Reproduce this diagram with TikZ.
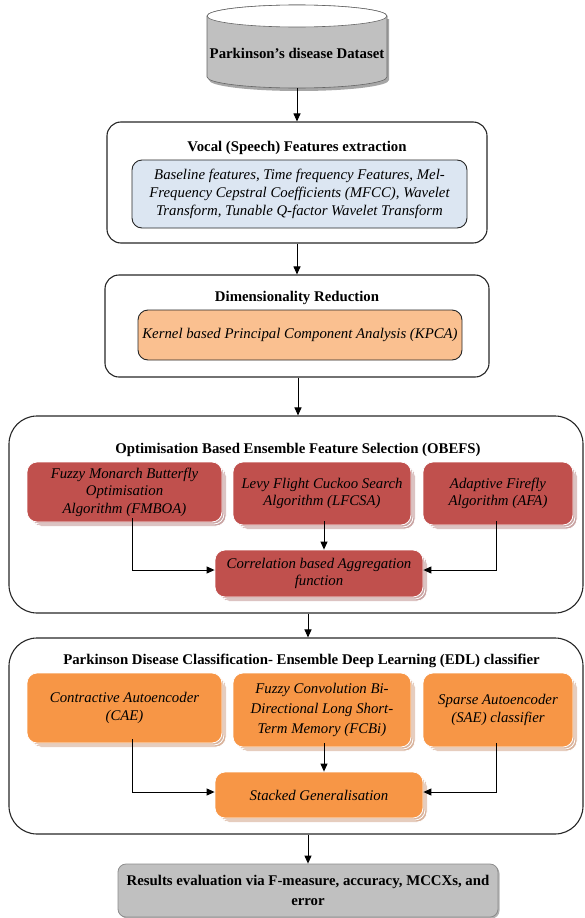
\documentclass[tikz,border=0pt]{standalone}
\usepackage{fontspec}
\setmainfont{Liberation Serif}
\usetikzlibrary{arrows.meta,shadows}

\definecolor{redbox}{HTML}{C0504D}
\definecolor{redshade}{HTML}{C9A3A2}
\definecolor{orangebox}{HTML}{F79646}
\definecolor{orangeshade}{HTML}{D9B39C}
\definecolor{peach}{HTML}{FAC090}
\definecolor{paleblue}{HTML}{DCE6F2}
\definecolor{greybox}{HTML}{C0C0C0}

\tikzset{
  heading/.style={font=\fontsize{14.8}{17}\selectfont\bfseries, inner sep=0pt, align=center},
  stage/.style={draw=black!85, line width=1.1pt, rounded corners=#1, inner sep=0pt},
  panel/.style={draw=black!85, line width=0.9pt, rounded corners=10pt, fill=#1,
    inner sep=0pt, align=center, font=\fontsize{14.8}{18}\selectfont\itshape},
  stacked/.style 2 args={fill=#1, draw=white, line width=0.8pt, rounded corners=10pt,
    inner sep=0pt, align=center, font=\fontsize{14.8}{17.5}\selectfont\itshape,
    general shadow={shadow xshift=4pt, shadow yshift=-4pt, fill=#2, draw=white},
    general shadow={shadow xshift=2pt, shadow yshift=-2pt, fill=#2, draw=white}},
  arr/.style={-{Triangle[length=8pt,width=7pt]}, line width=1pt, black},
}

\begin{document}
\begin{tikzpicture}[x=1pt, y=-1pt]
\useasboundingbox (0,0) rectangle (585,918);

% dataset cylinder
\fill[black!35] (209,19) -- (209,80) arc (180:360:90pt and 11pt) -- (389,19) -- cycle;
\draw[black!60, line width=0.6pt, fill=greybox] (207,16) -- (207,77) arc (180:360:90pt and 11pt)
  -- (387,16) arc (0:180:90pt and 11pt) -- cycle;
\draw[black!60, line width=0.6pt, fill=white] (297,16) ellipse [x radius=90pt, y radius=11pt];
\node[heading, minimum width=180pt, minimum height=70pt] (data) at (297,53) {Parkinson’s disease Dataset};

% feature extraction
\node[stage=14pt, minimum width=380pt, minimum height=121pt] (b1) at (297,182.5) {};
\node[heading] (t1) at (297,148) {Vocal (Speech) Features extraction};
\node[panel=paleblue, minimum width=335pt, minimum height=68pt] (p1) at (299.5,194)
  {Baseline features, Time frequency Features, Mel-\\Frequency Cepstral Coefficients (MFCC), Wavelet\\Transform, Tunable Q-factor Wavelet Transform};

% dimensionality reduction
\node[stage=14pt, minimum width=384pt, minimum height=102pt] (b2) at (297,326) {};
\node[heading] (t2) at (297,298) {Dimensionality Reduction};
\node[panel=peach, minimum width=324pt, minimum height=50pt] (p2) at (300,335)
  {Kernel based Principal Component Analysis (KPCA)};

% ensemble feature selection
\node[stage=28pt, minimum width=574pt, minimum height=197pt] (b3) at (296,514.5) {};
\node[heading] (t3) at (298,450) {Optimisation Based Ensemble Feature Selection (OBEFS)};
\node[stacked={redbox}{redshade}, minimum width=195pt, minimum height=60pt] (fmboa) at (124.5,492)
  {Fuzzy Monarch Butterfly\\Optimisation\\Algorithm (FMBOA)};
\node[stacked={redbox}{redshade}, minimum width=178pt, minimum height=63pt] (lfcsa) at (322,493.5)
  {Levy Flight Cuckoo Search\\Algorithm (LFCSA)};
\node[stacked={redbox}{redshade}, minimum width=150pt, minimum height=63pt] (afa) at (498,493.5)
  {Adaptive Firefly\\Algorithm (AFA)};
\node[stacked={redbox}{redshade}, minimum width=208pt, minimum height=47pt] (corr) at (319,573.5)
  {Correlation based Aggregation\\function};

% ensemble deep learning classifier
\node[stage=28pt, minimum width=574pt, minimum height=196pt] (b4) at (296,736) {};
\node[heading] (t4) at (301.5,661) {Parkinson Disease Classification- Ensemble Deep Learning (EDL) classifier};
\node[stacked={orangebox}{orangeshade}, minimum width=195pt, minimum height=70pt] (cae) at (124.5,708)
  {Contractive Autoencoder\\(CAE)};
\node[stacked={orangebox}{orangeshade}, minimum width=178pt, minimum height=74pt,
  font=\fontsize{14.8}{20}\selectfont\itshape] (fcbi) at (322,710)
  {Fuzzy Convolution Bi-\\Directional Long Short-\\Term Memory (FCBi)};
\node[stacked={orangebox}{orangeshade}, minimum width=150pt, minimum height=74pt] (sae) at (498,710)
  {Sparse Autoencoder\\(SAE) classifier};
\node[stacked={orangebox}{orangeshade}, minimum width=208pt, minimum height=46pt] (stack) at (319,795)
  {Stacked Generalisation};

% results
\node[fill=greybox, draw=black!45, line width=0.8pt, rounded corners=8pt, inner sep=0pt,
  minimum width=380pt, minimum height=53pt, align=center,
  font=\fontsize{14.8}{20}\selectfont\bfseries,
  general shadow={shadow xshift=1.5pt, shadow yshift=-1.5pt, fill=black!30, draw=none}] (res) at (308,890.5)
  {Results evaluation via F-measure, accuracy, MCCXs, and\\error};

% main flow
\draw[arr] (data.south) -- (b1.north);
\draw[arr] (b1.south) -- (b2.north);
\draw[arr] ([xshift=1pt]b2.south) -- ([xshift=2pt]b3.north);
\draw[arr] ([xshift=12pt]b3.south) -- ([xshift=12pt]b4.north);
\draw[arr] (res.north |- b4.south) -- (res.north);

% feature selection merges
\draw[arr] ([xshift=7.5pt, yshift=4pt]fmboa.south) |- ([yshift=3.5pt]corr.west);
\draw[arr] ([xshift=2pt, yshift=4pt]lfcsa.south) -- ([xshift=5pt]corr.north);
\draw[arr] ([xshift=-2pt, yshift=4pt]afa.south) |- ([yshift=3.5pt]corr.east);

% classifier merges
\draw[arr] ([xshift=7.5pt, yshift=4pt]cae.south) |- ([yshift=3pt]stack.west);
\draw[arr] ([xshift=2pt, yshift=4pt]fcbi.south) -- ([xshift=5pt]stack.north);
\draw[arr] ([xshift=-2pt, yshift=4pt]sae.south) |- ([yshift=3pt]stack.east);
\end{tikzpicture}
\end{document}
